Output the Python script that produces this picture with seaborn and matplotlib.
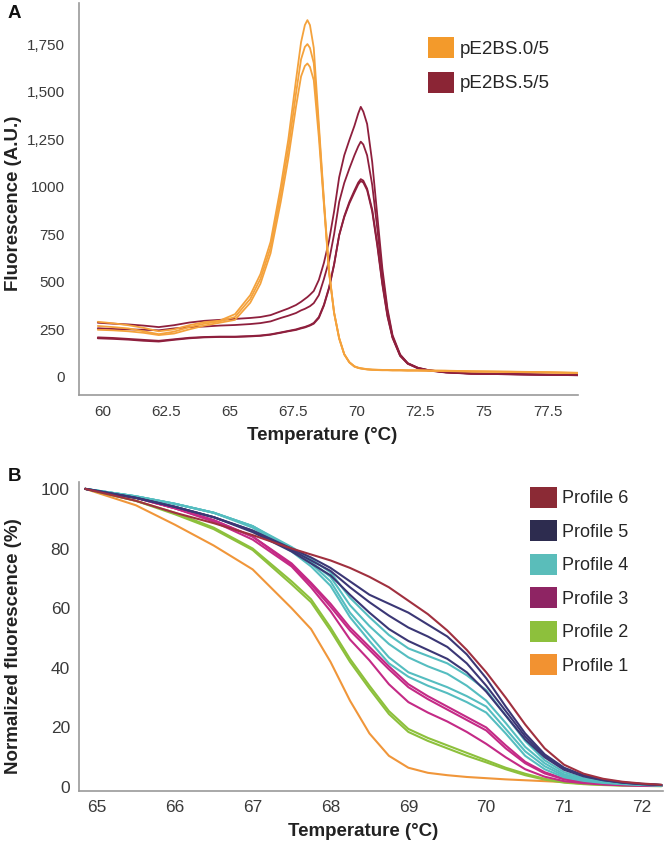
import matplotlib
matplotlib.use("Agg")
import matplotlib.pyplot as plt
from matplotlib.patches import Patch
from matplotlib.ticker import FixedLocator, MultipleLocator
import pandas as pd
import seaborn as sns

# ---- panel A: melt peaks (fluorescence, A.U.) ----
temp_a = [59.8, 60.4, 61.0, 61.6, 62.2, 62.8, 63.4, 64.0, 64.6, 65.2,
          65.8, 66.2, 66.6, 67.0, 67.3, 67.6, 67.8, 67.95, 68.05, 68.15,
          68.3, 68.5, 68.7, 68.9, 69.1, 69.3, 69.5, 69.7, 69.9, 70.05,
          70.15, 70.25, 70.4, 70.6, 70.8, 71.0, 71.2, 71.4, 71.7, 72.0,
          72.4, 72.8, 73.5, 74.5, 76.0, 77.5, 78.7]

bs0_run1 = [290, 282, 272, 258, 240, 250, 272, 288, 296, 330,
            430, 540, 710, 1000, 1250, 1560, 1760, 1850, 1876, 1850,
            1730, 1330, 930, 560, 340, 205, 120, 78, 56, 49,
            46, 44, 41, 39, 38, 37, 37, 36, 36, 35,
            35, 34, 33, 30, 28, 25, 22]
bs0_run2 = [268, 262, 255, 240, 225, 238, 262, 280, 292, 315,
            410, 515, 680, 960, 1200, 1490, 1670, 1735, 1750, 1730,
            1650, 1300, 920, 555, 337, 203, 119, 77, 55, 48,
            45, 43, 40, 38, 37, 36, 36, 35, 35, 34,
            34, 33, 32, 29, 27, 24, 21]
bs0_run3 = [248, 245, 240, 232, 220, 228, 250, 270, 285, 300,
            390, 490, 650, 920, 1150, 1420, 1580, 1635, 1648, 1630,
            1560, 1260, 905, 550, 335, 201, 118, 76, 54, 47,
            44, 42, 39, 37, 36, 35, 35, 34, 34, 33,
            33, 32, 31, 28, 26, 23, 20]
bs5_run1 = [285, 280, 276, 270, 262, 272, 286, 295, 300, 305,
            310, 315, 325, 345, 360, 378, 395, 410, 420, 432,
            452, 510, 600, 715, 870, 1050, 1165, 1245, 1320, 1385,
            1420, 1395, 1330, 1130, 850, 570, 360, 220, 118, 72,
            48, 36, 25, 18, 15, 12, 10]
bs5_run2 = [256, 252, 250, 248, 245, 255, 262, 265, 270, 273,
            278, 283, 292, 310, 322, 336, 350, 358, 365, 372,
            388, 430, 515, 610, 750, 920, 1020, 1095, 1165, 1212,
            1237, 1222, 1165, 1010, 780, 535, 345, 212, 115, 72,
            48, 36, 25, 18, 15, 12, 10]
bs5_run3 = [203, 200, 196, 190, 186, 195, 203, 208, 210, 210,
            213, 216, 222, 232, 240, 247, 255, 260, 265, 270,
            280, 310, 375, 465, 590, 745, 845, 920, 980, 1022,
            1040, 1032, 990, 880, 700, 495, 325, 208, 112, 70,
            46, 35, 24, 17, 14, 11, 9]
bs5_run4 = [208, 205, 200, 195, 190, 198, 206, 210, 212, 212,
            215, 218, 224, 234, 242, 250, 258, 263, 268, 273,
            284, 315, 380, 470, 592, 745, 840, 912, 970, 1012,
            1030, 1022, 982, 870, 690, 485, 318, 205, 110, 69,
            45, 34, 23, 17, 14, 11, 9]

samples_a = ["pE2BS.0/5", "pE2BS.5/5"]
colors_a = ["#F4A23C", "#8E1F3D"]
legend_colors_a = ["#F39A2B", "#8B2535"]
yticks_a = [0, 250, 500, 750, 1000, 1250, 1500, 1750]
yticklabels_a = ["0", "250", "500", "750", "1000", "1,250", "1,500", "1,750"]
xticks_a = [60, 62.5, 65, 67.5, 70, 72.5, 75, 77.5]
xticklabels_a = ["60", "62.5", "65", "67.5", "70", "72.5", "75", "77.5"]

# ---- panel B: normalized melting curves (%) ----
temp_b = [64.85, 65.5, 66.0, 66.5, 67.0, 67.5, 67.75, 68.0, 68.25, 68.5, 68.75, 69.0, 69.25,
          69.5, 69.75, 70.0, 70.25, 70.5, 70.75, 71.0, 71.25, 71.5, 71.75, 72.0, 72.25]

prof6_a = [100, 96, 92, 88.5, 84.5, 80, 78, 76, 73.5, 70.5, 67, 62.5, 58, 52.5, 46, 38.5, 30, 21,
           13, 7.5, 4.5, 2.8, 1.8, 1.2, 0.8]
prof5_a = [100, 97, 94, 90.5, 86, 80, 77, 73.5, 69, 64.5, 61.5, 58.5, 54.5, 50.5, 44.5, 36.5, 27,
           18, 11, 6.5, 4, 2.5, 1.6, 1.1, 0.7]
prof5_b = [100, 97, 94, 90.5, 86, 79.5, 76, 72.5, 67, 62, 57.5, 53.5, 50.5, 47, 41.5, 34, 25.5, 17,
           10.5, 6.2, 3.8, 2.4, 1.5, 1, 0.7]
prof5_c = [100, 97, 94, 90.5, 85.5, 79, 75, 71, 64.5, 58.5, 53, 49, 46, 43, 38.5, 32, 24, 16, 10,
           5.8, 3.6, 2.3, 1.5, 1, 0.7]
prof4_a = [100, 97.5, 95, 92, 87.5, 80.5, 76.5, 72, 63.5, 57, 51, 46.5, 44, 41.5, 37.5, 32.5, 24,
           15.5, 9, 5, 3, 2, 1.4, 1, 0.7]
prof4_b = [100, 97.5, 95, 92, 87.5, 80, 75.5, 70.5, 61, 54, 48, 43.5, 40.5, 38, 34, 29, 21.5, 13.5,
           8, 4.3, 2.7, 1.8, 1.3, 0.9, 0.6]
prof4_c = [100, 97.5, 95, 92, 87.5, 79.5, 75, 69, 58.5, 51, 43.5, 38.5, 36, 33.5, 30.5, 27, 19.5,
           12, 7, 3.8, 2.4, 1.6, 1.1, 0.8, 0.5]
prof4_d = [100, 97.5, 95, 92, 87, 79, 74, 67.5, 57, 49, 41.5, 37, 34, 31.5, 28.5, 25, 18, 10.5, 6,
           3.3, 2.1, 1.4, 1, 0.7, 0.5]
prof3_a = [100, 97, 93.5, 89.5, 84, 75, 68.5, 61.5, 53.5, 47, 40.5, 34.5, 30.5, 27, 23.5, 20, 14,
           8.5, 5, 2.8, 1.7, 1.1, 0.8, 0.6, 0.4]
prof3_b = [100, 97, 93.5, 89.5, 84, 74.5, 68, 60.5, 52.5, 46, 39.5, 33.5, 29.5, 26, 22.5, 19, 13, 8,
           4.6, 2.6, 1.6, 1, 0.7, 0.5, 0.4]
prof3_c = [100, 97, 93.5, 89, 83, 74, 67, 59, 49.5, 42.5, 34.5, 28.5, 25, 22, 18.5, 14.5, 10, 6,
           3.5, 2, 1.3, 0.9, 0.6, 0.5, 0.4]
prof2_a = [100, 96, 92, 87, 80, 69, 63, 53.5, 43, 34, 25.5, 19.5, 16.5, 14, 11.5, 9, 6.5, 4.5, 2.8,
           1.7, 1.1, 0.8, 0.6, 0.5, 0.4]
prof2_b = [100, 96, 91.5, 86.5, 79.5, 68, 62, 52.5, 42, 33, 24.5, 18.5, 15.5, 13, 10.5, 8.3, 6, 4,
           2.5, 1.5, 1, 0.7, 0.5, 0.4, 0.3]
prof1_a = [100, 94.5, 88, 81, 73, 60, 53, 42, 29, 18, 10.5, 6.5, 4.8, 4, 3.4, 3, 2.6, 2.3, 2, 1.7,
           1.4, 1.1, 0.9, 0.7, 0.5]

profiles = ["Profile 6", "Profile 5", "Profile 4", "Profile 3", "Profile 2", "Profile 1"]
line_colors_b = ["#A0303F", "#3B3775", "#55BDC0", "#C42A86", "#8DC03C", "#F0963A"]
legend_colors_b = ["#8B2A35", "#2D2C4F", "#5ABDBA", "#8E2463", "#8DC03C", "#F29231"]


def long_table(temps, runs):
    rows = []
    for group, run_id, vals in runs:
        for t, v in zip(temps, vals):
            rows.append({"temp": t, "value": v, "group": group, "run": run_id})
    return pd.DataFrame(rows)


df_a = long_table(temp_a, [
    ("pE2BS.5/5", "r1", bs5_run1), ("pE2BS.5/5", "r2", bs5_run2),
    ("pE2BS.5/5", "r3", bs5_run3), ("pE2BS.5/5", "r4", bs5_run4),
    ("pE2BS.0/5", "o1", bs0_run1), ("pE2BS.0/5", "o2", bs0_run2), ("pE2BS.0/5", "o3", bs0_run3),
])
df_b = long_table(temp_b, [
    ("Profile 1", "p1a", prof1_a),
    ("Profile 2", "p2a", prof2_a), ("Profile 2", "p2b", prof2_b),
    ("Profile 3", "p3a", prof3_a), ("Profile 3", "p3b", prof3_b), ("Profile 3", "p3c", prof3_c),
    ("Profile 4", "p4a", prof4_a), ("Profile 4", "p4b", prof4_b),
    ("Profile 4", "p4c", prof4_c), ("Profile 4", "p4d", prof4_d),
    ("Profile 5", "p5a", prof5_a), ("Profile 5", "p5b", prof5_b), ("Profile 5", "p5c", prof5_c),
    ("Profile 6", "p6a", prof6_a),
])

sns.set_theme(style="white")
plt.rcParams["font.family"] = ["Liberation Sans", "DejaVu Sans"]

W, H = 666, 846
fig = plt.figure(figsize=(W / 100, H / 100), dpi=100)
ax_a = fig.add_axes([79 / W, 1 - 395 / H, 499 / W, 392 / H])
ax_b = fig.add_axes([79 / W, 1 - 791 / H, 584 / W, 309 / H])

sns.lineplot(data=df_a, x="temp", y="value", hue="group", units="run", estimator=None,
             palette=dict(zip(samples_a, colors_a)), lw=1.3, sort=False, legend=False, ax=ax_a)
sns.lineplot(data=df_b, x="temp", y="value", hue="group", units="run", estimator=None,
             palette=dict(zip(profiles, line_colors_b)), lw=1.5, sort=False, legend=False, ax=ax_b)

for ax in (ax_a, ax_b):
    for s in ("top", "right"):
        ax.spines[s].set_visible(False)
    for s in ("left", "bottom"):
        ax.spines[s].set_color("#9a9a9a")
        ax.spines[s].set_linewidth(1.2)
    ax.tick_params(colors="#9a9a9a", labelcolor="#3a3a3a", direction="out")

# panel A axes
ax_a.set_xlim(59.06, 78.7)
ax_a.set_ylim(-95, 1966)
ax_a.xaxis.set_major_locator(FixedLocator(xticks_a))
ax_a.set_xticklabels(xticklabels_a)
ax_a.yaxis.set_major_locator(FixedLocator(yticks_a))
ax_a.set_yticklabels(yticklabels_a)
ax_a.tick_params(axis="x", length=3, width=1, labelsize=11, pad=4)
ax_a.tick_params(axis="y", length=0, labelsize=11, pad=10)
ax_a.set_xlabel("Temperature (°C)", fontsize=13.5, fontweight="bold", color="#222222")
ax_a.set_ylabel("Fluorescence (A.U.)", fontsize=13.5, fontweight="bold", color="#222222")
ax_a.xaxis.set_label_coords(0.487, -0.082)
ax_a.yaxis.set_label_coords(-0.114, 0.49)

# panel B axes
ax_b.set_xlim(64.77, 72.27)
ax_b.set_ylim(-1.3, 102.3)
ax_b.xaxis.set_major_locator(MultipleLocator(1))
ax_b.xaxis.set_minor_locator(MultipleLocator(0.5))
ax_b.yaxis.set_major_locator(MultipleLocator(20))
ax_b.yaxis.set_minor_locator(MultipleLocator(10))
ax_b.tick_params(which="both", length=3, width=1, colors="#9a9a9a", labelcolor="#3a3a3a")
ax_b.tick_params(axis="both", which="major", labelsize=12.5)
ax_b.set_xlabel("Temperature (°C)", fontsize=13.5, fontweight="bold", color="#222222")
ax_b.set_ylabel("Normalized fluorescence (%)", fontsize=13.5, fontweight="bold", color="#222222")
ax_b.xaxis.set_label_coords(0.486, -0.104)
ax_b.yaxis.set_label_coords(-0.098, 0.47)

# legends with square swatches
handles_a = [Patch(facecolor=c, edgecolor="none", label=l) for l, c in zip(samples_a, legend_colors_a)]
ax_a.legend(handles=handles_a, loc="upper left", bbox_to_anchor=(428 / W, 1 - 37 / H),
            bbox_transform=fig.transFigure, frameon=False, fontsize=13.5, handlelength=1.4,
            handleheight=1.35, handletextpad=0.3, labelspacing=0.72, borderpad=0, borderaxespad=0)
handles_b = [Patch(facecolor=c, edgecolor="none", label=l) for l, c in zip(profiles, legend_colors_b)]
ax_b.legend(handles=handles_b, loc="upper left", bbox_to_anchor=(530 / W, 1 - 487 / H),
            bbox_transform=fig.transFigure, frameon=False, fontsize=13, handlelength=1.5,
            handleheight=1.4, handletextpad=0.3, labelspacing=0.7, borderpad=0, borderaxespad=0)

fig.text(8 / W, 1 - 5 / H, "A", fontsize=13.5, fontweight="bold", va="top", color="#111111")
fig.text(8 / W, 1 - 468 / H, "B", fontsize=13.5, fontweight="bold", va="top", color="#111111")

fig.savefig("out.png", dpi=100)
